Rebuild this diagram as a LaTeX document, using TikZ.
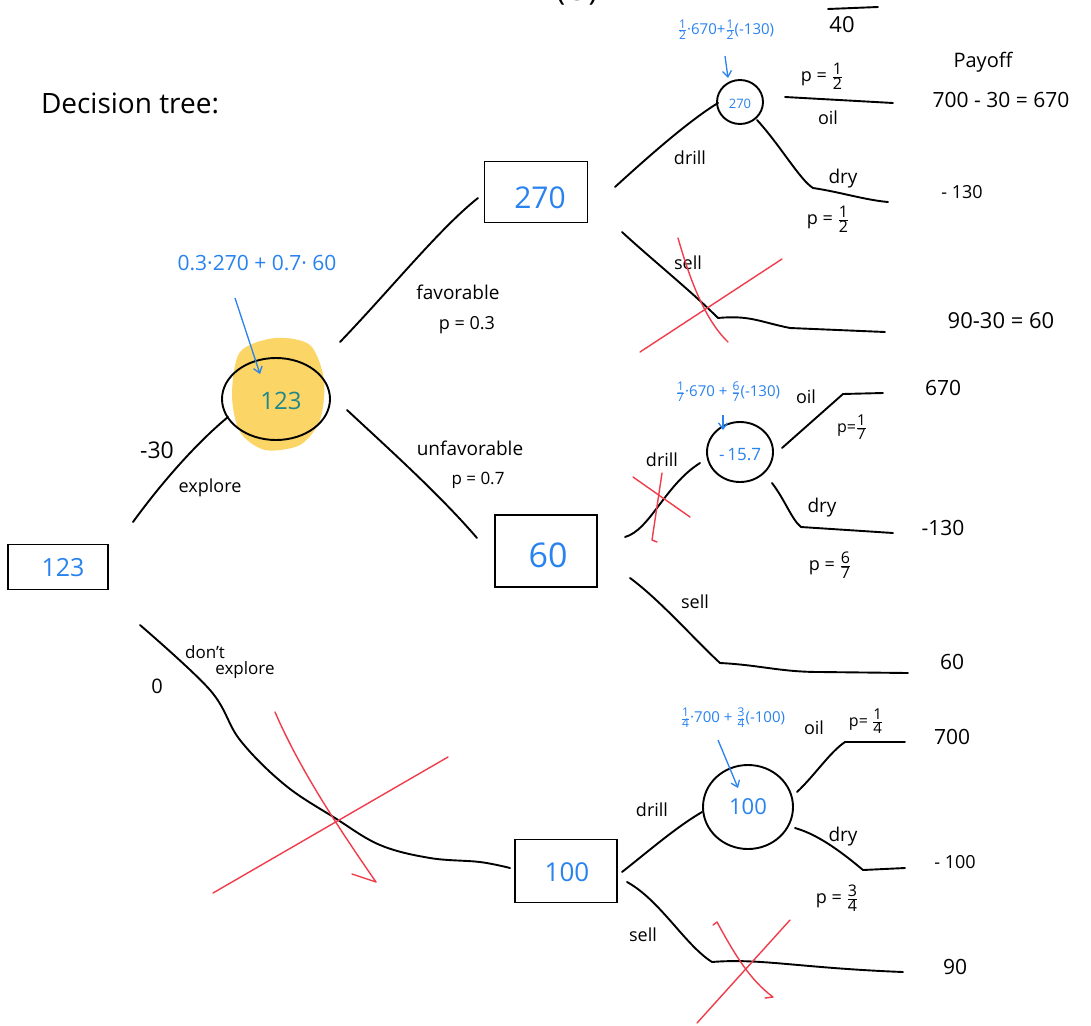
\documentclass[tikz,border=0pt]{standalone}
\usepackage{fontspec}
\setmainfont{Open Sans}
\usetikzlibrary{arrows.meta,shapes.geometric}
\definecolor{inkblue}{RGB}{40,130,240}
\definecolor{inkred}{RGB}{240,60,75}
\definecolor{hiyellow}{RGB}{250,200,50}
\definecolor{tealink}{RGB}{30,135,140}
\newcommand{\fs}[1]{\fontsize{#1}{#1}\selectfont}
\newcommand{\hf}[3]{\ensuremath{\frac{\mbox{\fs{#3}#1}}{\mbox{\fs{#3}#2}}}}
\begin{document}
\begin{tikzpicture}[x=1pt,y=-1pt,
  ink/.style={line width=1.9pt, line cap=round, line join=round},
  redx/.style={draw=inkred, line width=1.4pt, line cap=round, line join=round},
  barrow/.style={draw=inkblue, line width=1.3pt, -{Straight Barb[length=6pt,width=9pt]}},
  dbox/.style={draw, line width=1.9pt, inner sep=0pt},
  chance/.style={draw, ellipse, line width=1.9pt, inner sep=0pt},
  lbl/.style={font=\fs{18}, inner sep=0pt},
  pay/.style={font=\fs{21}, inner sep=0pt},
  form/.style={text=inkblue, font=\fs{15}, inner sep=0pt}]
\useasboundingbox (0,0) rectangle (1091,1025);
\fill[white] (0,0) rectangle (1091,1025);

% clipped top remnants
\node[font=\fs{30}, inner sep=0pt] (pO) at (568,-8) {P(O)};
\node[font=\fs{22}, inner sep=0pt] (forty) at (842,25) {40};
\draw[ink] (828,9) -- (878,7);

% title
\node[font=\fs{28}, inner sep=0pt] (title) at (130,103) {Decision tree:};

% yellow highlight
\fill[hiyellow, opacity=0.75] plot[smooth cycle] coordinates {(240,352) (275,338) (310,345) (324,380) (320,420) (300,445) (265,450) (240,432) (232,395)};

% decision boxes
\node[dbox, minimum width=100, minimum height=45] (root) at (58,567) {};
\node[text=inkblue, font=\fs{25}] (rootv) at (63,568) {123};
\node[dbox, minimum width=103, minimum height=61] (b270) at (536,192) {};
\node[text=inkblue, font=\fs{30}] (b270v) at (540,198) {270};
\node[dbox, minimum width=102, minimum height=72] (b60) at (546,551) {};
\node[text=inkblue, font=\fs{34}] (b60v) at (548,555) {60};
\node[dbox, minimum width=102, minimum height=63] (b100) at (566,871) {};
\node[text=inkblue, font=\fs{26}] (b100v) at (567,872) {100};

% chance nodes
\node[chance, minimum width=108, minimum height=82] (c123) at (276,399) {};
\node[text=tealink, font=\fs{24}] (c123v) at (281,401) {123};
\node[chance, minimum width=46, minimum height=44] (c270) at (740,102) {};
\node[text=inkblue, font=\fs{13}] (c270v) at (740,104) {270};
\node[chance, minimum width=66, minimum height=60] (c157) at (740,452) {};
\node[text=inkblue, font=\fs{17}] (c157v) at (740,455) {{-}\,15.7};
\node[chance, minimum width=90, minimum height=84] (c100) at (748,807) {};
\node[text=inkblue, font=\fs{22}] (c100v) at (748,807) {100};

% formulas
\node[text=inkblue, font=\fs{21}, inner sep=0pt] (f123) at (257,263) {0.3·270 + 0.7· 60};
\node[form] (f270) at (726,30) {\hf{1}{2}{12}·670+\hf{1}{2}{12}(-130)};
\node[form] (f157) at (728,392) {\hf{1}{7}{12}·670 + \hf{6}{7}{12}(-130)};
\node[form] (f100) at (733,718) {\hf{1}{4}{12}·700 + \hf{3}{4}{12}(-100)};
\coordinate (a1s) at (235,298); \coordinate (a1e) at (260,374);
\draw[barrow] (a1s) -- (a1e);
\coordinate (a2s) at (725,56); \coordinate (a2e) at (728,78);
\draw[barrow] (a2s) -- (a2e);
\coordinate (a3s) at (723,415); \coordinate (a3e) at (723,430);
\draw[barrow] (a3s) -- (a3e);
\coordinate (a4s) at (718,740); \coordinate (a4e) at (738,788);
\draw[barrow] (a4s) -- (a4e);

% root branches
\coordinate (ex0) at (133,522); \coordinate (ex1) at (228,417);
\draw[ink] (ex0) .. controls (165,478) and (200,440) .. (ex1);
\node[font=\fs{23}, inner sep=0pt] (m30) at (157,450) {{-}30};
\node[lbl] (lexp) at (210,488) {explore};

\coordinate (dx0) at (140,625); \coordinate (dx1) at (510,868);
\draw[ink] plot[smooth, tension=0.6] coordinates {(dx0) (210,690) (240,740) (285,785) (335,818) (380,845) (430,858) (480,862) (dx1)};
\node[lbl, font=\fs{17}] (ldont) at (205,652) {don't};
\node[lbl, font=\fs{17}] (lexp2) at (245,670) {explore};
\node[font=\fs{20}, inner sep=0pt] (zero) at (157,686) {0};

% chance 123 branches
\coordinate (fv0) at (340,342); \coordinate (fv1) at (478,198);
\draw[ink] (fv0) .. controls (390,290) and (440,228) .. (fv1);
\node[lbl, font=\fs{19}] (lfav) at (458,292) {favorable};
\node[lbl] (pfav) at (467,325) {p = 0.3};
\coordinate (uf0) at (347,410); \coordinate (uf1) at (477,538);
\draw[ink] (uf0) .. controls (390,450) and (440,495) .. (uf1);
\node[lbl, font=\fs{19}] (lunf) at (470,448) {unfavorable};
\node[lbl, font=\fs{17}] (punf) at (478,480) {p = 0.7};

% top subtree (favorable)
\node[font=\fs{20}, inner sep=0pt] (payoff) at (983,62) {Payoff};
\coordinate (d1a) at (615,187); \coordinate (d1b) at (718,103);
\draw[ink] (d1a) .. controls (650,155) and (690,120) .. (d1b);
\node[lbl] (ldr1) at (690,158) {drill};
\coordinate (o1a) at (785,97); \coordinate (o1b) at (893,103);
\draw[ink] (o1a) -- (o1b);
\node[lbl] (po1) at (822,76) {p = \hf{1}{2}{16}};
\node[lbl] (loil1) at (828,118) {oil};
\node[pay] (v670a) at (1001,100) {700 - 30 = 670};
\coordinate (y1a) at (757,120); \coordinate (y1b) at (888,202);
\draw[ink] (y1a) .. controls (780,145) and (800,180) .. (813,188) .. controls (840,192) and (865,200) .. (y1b);
\node[lbl, font=\fs{19}] (ldy1) at (843,179) {dry};
\node[lbl] (py1) at (828,219) {p = \hf{1}{2}{16}};
\node[pay, font=\fs{18}] (v130a) at (962,192) {- 130};
\coordinate (s1a) at (622,232); \coordinate (s1b) at (885,332);
\draw[ink] (s1a) .. controls (650,258) and (690,290) .. (718,318) .. controls (750,315) and (760,322) .. (790,328) -- (s1b);
\node[lbl] (lse1) at (688,263) {sell};
\node[pay, font=\fs{22}] (v60a) at (1001,321) {90-30 = 60};
\draw[redx] (678,238) .. controls (690,280) and (705,320) .. (728,342);
\draw[redx] (640,352) -- (782,259);

% middle subtree (unfavorable)
\coordinate (d2a) at (625,537); \coordinate (d2b) at (700,463);
\draw[ink] (d2a) .. controls (650,530) and (665,485) .. (d2b);
\node[lbl] (ldr2) at (662,460) {drill};
\draw[redx] (633,477) -- (690,517);
\draw[redx] (662,473) -- (652,540) -- (657,542);
\node[lbl] (loil2) at (806,397) {oil};
\coordinate (o2a) at (782,448); \coordinate (o2b) at (883,393);
\draw[ink] (o2a) -- (843,394) -- (o2b);
\node[lbl, font=\fs{16}] (po2) at (852,427) {p=\hf{1}{7}{15}};
\node[pay] (v670b) at (943,388) {670};
\coordinate (y2a) at (772,483); \coordinate (y2b) at (893,533);
\draw[ink] (y2a) .. controls (785,500) and (792,520) .. (801,527) -- (y2b);
\node[lbl, font=\fs{19}] (ldy2) at (822,508) {dry};
\node[lbl] (py2) at (830,565) {p = \hf{6}{7}{16}};
\node[pay] (v130b) at (943,528) {-130};
\coordinate (s2a) at (630,578); \coordinate (s2b) at (908,673);
\draw[ink] (s2a) .. controls (660,600) and (695,640) .. (720,663) .. controls (760,665) and (780,672) .. (820,672) -- (s2b);
\node[lbl] (lse2) at (695,602) {sell};
\node[pay] (v60b) at (952,662) {60};

% bottom subtree (don't explore)
\coordinate (d3a) at (622,872); \coordinate (d3b) at (702,812);
\draw[ink] (d3a) .. controls (650,850) and (675,828) .. (d3b);
\node[lbl] (ldr3) at (652,810) {drill};
\node[lbl] (loil3) at (814,728) {oil};
\coordinate (o3a) at (797,792); \coordinate (o3b) at (905,742);
\draw[ink] (o3a) .. controls (815,775) and (830,752) .. (845,742) -- (o3b);
\node[lbl, font=\fs{16}] (po3) at (866,721) {p= \hf{1}{4}{15}};
\node[pay] (v700) at (952,737) {700};
\coordinate (y3a) at (795,828); \coordinate (y3b) at (905,868);
\draw[ink] (y3a) .. controls (820,835) and (845,855) .. (863,870) -- (y3b);
\node[lbl, font=\fs{19}] (ldy3) at (843,837) {dry};
\node[lbl] (py3) at (837,898) {p = \hf{3}{4}{16}};
\node[pay, font=\fs{18}] (v100) at (955,862) {- 100};
\coordinate (s3a) at (627,882); \coordinate (s3b) at (903,972);
\draw[ink] (s3a) .. controls (660,900) and (685,945) .. (712,962) .. controls (760,958) and (800,968) .. (s3b);
\node[lbl] (lse3) at (643,935) {sell};
\node[pay] (v90) at (955,967) {90};
\draw[redx] (713,925) -- (717,922) .. controls (735,955) and (750,980) .. (773,997) -- (765,998);
\draw[redx] (697,1023) -- (790,920);

% red X over don't explore
\draw[redx] (275,712) .. controls (300,770) and (340,830) .. (376,882) -- (352,874);
\draw[redx] (213,893) -- (448,757);
\end{tikzpicture}
\end{document}
